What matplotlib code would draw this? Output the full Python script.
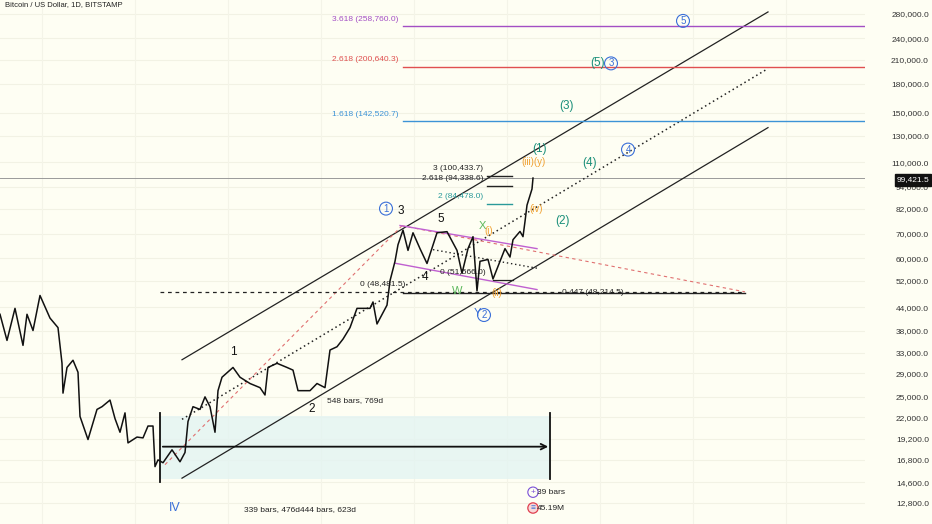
import matplotlib
matplotlib.use("Agg")
import matplotlib.pyplot as plt
from matplotlib.ticker import NullLocator

plt.rcParams['font.family'] = ['Liberation Sans', 'DejaVu Sans']

# price path (bar index, close)
bars = [0, 7, 15, 23, 27, 33, 40, 50, 58, 62, 63, 67, 73, 78, 80, 88, 97, 102,
        110, 115, 120, 125, 128, 137, 143, 148, 153, 155, 158, 163, 172, 180,
        185, 188, 193, 200, 205, 210, 215, 218, 222, 233, 240, 250, 260, 265,
        268, 277, 287, 293, 298, 310, 317, 325, 330, 337, 343, 350, 357, 370,
        373, 377, 387, 390, 395, 398, 403, 408, 413, 420, 427, 437, 447, 457,
        462, 468, 473, 477, 480, 488, 493, 500, 505, 510, 513, 520, 523, 525,
        527, 532, 533]
close = [42100, 35700, 43700, 34600, 42100, 38000, 47400, 41100, 38700, 30900,
         25600, 30100, 31500, 29200, 22100, 19100, 23100, 23500, 24500, 21800,
         20000, 22600, 18700, 19400, 19300, 20800, 20800, 16100, 16800, 16500,
         17900, 16600, 17600, 21400, 23500, 23100, 25000, 23500, 20000, 26000,
         28300, 30100, 28300, 27200, 26500, 25300, 30100, 30900, 30100, 29600,
         26000, 26000, 27200, 26500, 33600, 34300, 36000, 38700, 43700, 43700,
         45500, 39600, 44600, 52000, 58800, 65300, 71600, 63000, 70400, 63700,
         58000, 70400, 70900, 63000, 54500, 63700, 68700, 48800, 58800, 59500,
         52600, 58800, 63700, 60400, 67400, 71000, 68700, 75600, 83800, 92800,
         99421.5]
last_price = 99421.5

# price axis ticks
tick_vals = [12800, 14600, 16800, 19200, 22000, 25000, 29000, 33000, 38000,
             44000, 52000, 60000, 70000, 82000, 94000, 110000, 130000, 150000,
             180000, 210000, 240000, 280000]

# channel and trend lines (bar, price)
upper_ch = ([182, 768], [31600, 283600])
lower_ch = ([182, 768], [14970, 136700])
mid_ch = ([182, 768], [21700, 198400])
red_up = ([165, 402], [16300, 73600])
red_down = ([402, 745], [73600, 48500])
flag_top = ([400, 537], [73700, 63700])
flag_bot = ([395, 537], [58100, 49200])
dot_down = ([433, 537], [63300, 56300])

# fibonacci levels
big_fibs = [("3.618 (258,760.0)", 258760.0, '#a34fc4'),
            ("2.618 (200,640.3)", 200640.3, '#e05050'),
            ("1.618 (142,520.7)", 142520.7, '#3d93d6')]
small_fibs = [("3 (100,433.7)", 100433.7, '#222222'),
              ("2.618 (94,338.6)", 94338.6, '#222222'),
              ("2 (84,478.0)", 84478.0, '#2a9a9a')]

# wave labels: text, bar, price, colour, size, circled
waves = [("1", 386, 82000, '#3a6fd8', 7, True),
         ("3", 401, 81000, '#111111', 8.5, False),
         ("5", 441, 77000, '#111111', 8.5, False),
         ("4", 425, 53300, '#111111', 8.5, False),
         ("1", 233, 33200, '#111111', 8.5, False),
         ("2", 312, 23100, '#111111', 8.5, False),
         ("X", 482, 73700, '#5cb85c', 8, False),
         ("(i)", 489, 71300, '#f0a030', 7, False),
         ("W", 457, 48900, '#5cb85c', 8, False),
         ("(ii)", 497, 48200, '#f0a030', 7, False),
         ("Y", 477, 42400, '#3a6fd8', 8, False),
         ("2", 484, 41900, '#3a6fd8', 7, True),
         ("(iv)", 536, 82000, '#f0a030', 7, False),
         ("(iii)(y)", 533, 110000, '#f0a030', 7, False),
         ("(1)", 540, 119800, '#1a8f7a', 8.5, False),
         ("(2)", 563, 75600, '#1a8f7a', 8.5, False),
         ("(3)", 567, 156700, '#1a8f7a', 8.5, False),
         ("(4)", 590, 109300, '#1a8f7a', 8.5, False),
         ("(5)", 598, 206000, '#1a8f7a', 8.5, False),
         ("3", 611, 205000, '#3a6fd8', 7, True),
         ("4", 628, 119000, '#3a6fd8', 7, True),
         ("5", 683, 268000, '#3a6fd8', 7, True)]

fig = plt.figure(figsize=(9.32, 5.24), dpi=100)
fig.patch.set_facecolor('#fefef3')
ax = fig.add_axes([0, 0, 865 / 932, 1])
ax.set_facecolor('#fefef3')
ax.set_yscale('log')
ax.set_xlim(0, 865)
ax.set_ylim(11210, 305800)

for s in ax.spines.values():
    s.set_visible(False)
ax.yaxis.tick_right()
ax.set_yticks(tick_vals)
ax.set_yticklabels([f"{v:,.1f}" for v in tick_vals], fontsize=6, color='#333333')
ax.yaxis.set_minor_locator(NullLocator())
ax.tick_params(axis='y', length=0, pad=46)
for t in ax.get_yticklabels():
    t.set_horizontalalignment('right')
ax.set_xticks([])
for v in tick_vals:
    ax.axhline(v, color='#f2f2e4', lw=0.8, zorder=0)
for xv in [42, 135, 228, 321, 414, 507, 600, 693, 786]:
    ax.axvline(xv, color='#f4f4e8', lw=0.8, zorder=0)

# measurement box
ax.fill_between([160, 550], 14880, 22100, color='#e3f4f2', alpha=0.8, lw=0, zorder=1)
ax.plot([160, 160], [14600, 22600], color='#111111', lw=1.3, zorder=3)
ax.plot([550, 550], [14880, 22600], color='#111111', lw=1.3, zorder=3)
ax.annotate('', xy=(551, 18260), xytext=(160, 18260),
            arrowprops=dict(arrowstyle='->', color='#111111', lw=1.3), zorder=3)

# channels
ax.plot(*upper_ch, color='#222222', lw=0.9, zorder=2)
ax.plot(*lower_ch, color='#222222', lw=0.9, zorder=2)
ax.plot(*mid_ch, color='#222222', lw=1.1, ls=(0, (1, 2)), zorder=2)
ax.plot(*red_up, color='#e07070', lw=0.8, ls=(0, (3, 3)), zorder=2)
ax.plot(*red_down, color='#e07070', lw=0.8, ls=(0, (3, 3)), zorder=2)
ax.plot(*flag_top, color='#c060d0', lw=1.0, zorder=2)
ax.plot(*flag_bot, color='#c060d0', lw=1.0, zorder=2)
ax.plot(*dot_down, color='#222222', lw=1.0, ls=(0, (1, 2)), zorder=2)
ax.plot([160, 745], [48481.5, 48481.5], color='#222222', lw=0.9, ls=(0, (3, 3)), zorder=2)
ax.plot([403, 745], [48214.5, 48214.5], color='#222222', lw=1.0, zorder=2)
ax.plot([493, 513], [52300, 52300], color='#222222', lw=0.9, zorder=2)

# fib levels
for lab, val, col in big_fibs:
    ax.plot([403, 865], [val, val], color=col, lw=1.0, zorder=2)
    ax.text(398, val * 1.045, lab, color=col, fontsize=6, ha='right', va='center')
for lab, val, col in small_fibs:
    ax.plot([487, 512], [val, val], color=col, lw=1.0, zorder=2)
    ax.text(483, val * 1.05, lab, color=col, fontsize=6, ha='right', va='center')

# current price line
ax.axhline(last_price, color='#9a9a9a', lw=0.7, zorder=1)

# price
ax.plot(bars, close, color='#111111', lw=1.1, zorder=4)

for txt, bx, py, col, fs, circ in waves:
    if circ:
        ax.text(bx, py, txt, color=col, fontsize=fs, ha='center', va='center', zorder=5,
                bbox=dict(boxstyle='circle,pad=0.15', fc='none', ec=col, lw=0.8))
    else:
        ax.text(bx, py, txt, color=col, fontsize=fs, ha='center', va='center', zorder=5)

ax.text(383, 50700, "0 (48,481.5)", fontsize=6, color='#222222', ha='center', va='center')
ax.text(463, 54700, "0 (51,566.0)", fontsize=6, color='#222222', ha='center', va='center')
ax.text(562, 48214.5, "0.447 (48,214.5)", fontsize=6, color='#222222', ha='left', va='center')
ax.text(355, 24500, "548 bars, 769d", fontsize=6, color='#222222', ha='center', va='center')
ax.text(300, 12300, "339 bars, 476d444 bars, 623d", fontsize=6, color='#222222',
        ha='center', va='center')
ax.text(175, 12400, "IV", fontsize=9, color='#3a6fd8', ha='center', va='center')
ax.text(533, 13700, "+", fontsize=6, color='#7a4fd8', ha='center', va='center',
        bbox=dict(boxstyle='circle,pad=0.2', fc='none', ec='#7a4fd8', lw=0.8))
ax.text(537, 13650, "39 bars", fontsize=6, color='#222222', ha='left', va='center')
ax.text(533, 12400, "\u2261", fontsize=6, color='#3a6fd8', ha='center', va='center',
        bbox=dict(boxstyle='circle,pad=0.2', fc='#f8d8d8', ec='#e04050', lw=0.9))
ax.text(537, 12400, "45.19M", fontsize=6, color='#222222', ha='left', va='center')

ax.text(0.006, 0.998, "Bitcoin / US Dollar, 1D, BITSTAMP", transform=ax.transAxes,
        fontsize=5.5, color='#222222', ha='left', va='top')

# last price tag on the axis
fig.text(913 / 932, 1 - 180 / 524, f"{last_price:,.1f}", fontsize=6, color='white',
         ha='center', va='center',
         bbox=dict(boxstyle='square,pad=0.25', fc='#111111', ec='#111111'))

fig.savefig("out.png", dpi=100, facecolor=fig.get_facecolor())
